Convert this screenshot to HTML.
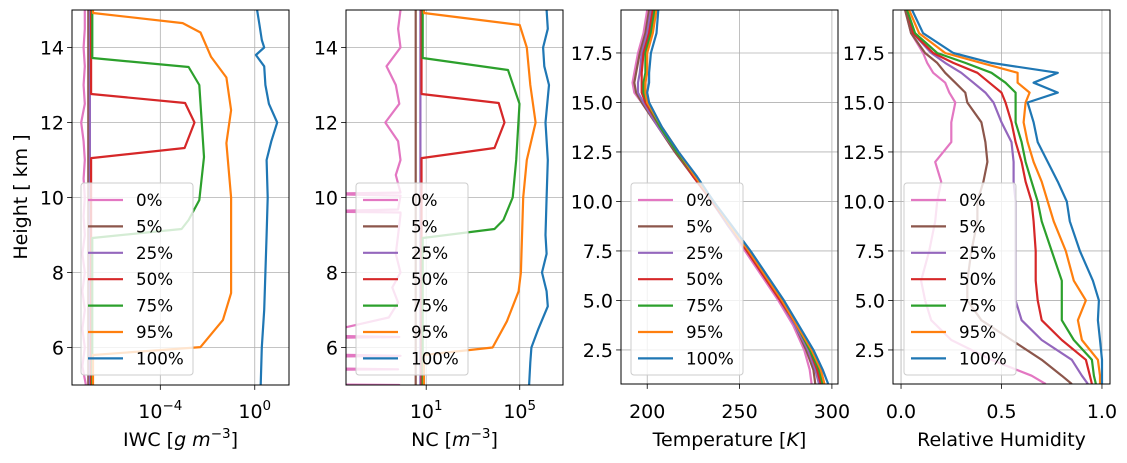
<!DOCTYPE html>
<html><head><meta charset="utf-8"><style>
body{margin:0;background:#fff;}
svg text{font-family:"DejaVu Sans","Liberation Sans",sans-serif;fill:#000;}
</style></head><body>
<svg id="fig" width="1127" height="458" viewBox="0 0 1127 458" xmlns="http://www.w3.org/2000/svg"></svg>
<script>
const labels = ["0%","5%","25%","50%","75%","95%","100%"];
const colors = ["#e377c2","#8c564b","#9467bd","#d62728","#2ca02c","#ff7f0e","#1f77b4"];

// Panel 1: IWC (log10 g m^-3) - heights and values per series
const iwcH = [
 [5,5.5,6,6.5,7,7.5,8,8.5,9,9.5,10,10.5,11,11.5,12,12.5,13,13.5,14,14.5,15],
 [5,15],
 [5,15],
 [5,11.05,11.32,12.0,12.52,12.76,15],
 [5,8.92,9.16,9.4,9.93,11.08,13.0,13.48,13.72,15],
 [5,5.8,6.01,6.73,7.45,10.0,11.45,12.33,13.2,13.75,14.4,14.65,14.92,15],
 [5,6,7,8,9,10,11,11.5,12,12.5,13,13.5,13.8,14,14.2,14.6,15]
];
const iwcV = [
 [-7.15,-7.3,-7.2,-7.3,-7.2,-7.3,-7.2,-7.3,-7.2,-7.25,-7.2,-7.25,-7.2,-7.25,-7.35,-7.2,-7.25,-7.2,-7.25,-7.2,-7.2],
 [-7.05,-7.05],
 [-6.98,-6.98],
 [-6.93,-6.93,-2.97,-2.55,-2.95,-6.93,-6.93],
 [-6.88,-6.88,-3.1,-2.8,-2.35,-2.15,-2.35,-2.8,-6.88,-6.88],
 [-6.85,-6.85,-2.3,-1.35,-1.0,-1.0,-1.2,-1.0,-1.2,-1.85,-2.3,-3.05,-6.85,-6.85],
 [0.25,0.3,0.4,0.45,0.5,0.55,0.5,0.7,0.95,0.6,0.45,0.4,0.05,0.4,0.3,0.2,0.1]
];

// Panel 2: NC (log10 m^-3)
const ncH = [
 [4.95,5.0,5.02,5.4,5.42,5.45,5.75,5.78,5.82,6.25,6.28,6.32,6.8,7.2,7.6,8.0,8.5,9.0,9.55,9.6,9.63,9.68,10.05,10.1,10.13,10.6,11,11.5,12,12.5,13,13.5,14,14.5,15],
 [5,15],
 [5,15],
 [5,11.05,11.32,12.0,12.52,12.76,15],
 [5,8.92,9.16,9.4,10.0,11.0,12.5,13.4,13.72,15],
 [5,5.8,6.0,6.7,7.5,8.0,10.0,11.0,12.0,13.0,14.0,14.6,14.92,15],
 [5,5.6,6.0,6.5,7.1,7.5,8.0,8.5,9,10,11,12,13,13.5,14,14.5,15]
];
const ncV = [
 [-0.15,-0.15,-4,-4,-0.2,-4,-4,-0.1,-4,-4,-0.15,-4,-0.6,-0.2,-0.45,-0.1,-0.3,-0.2,-0.1,-0.1,-4,-0.2,-0.1,-4,-0.1,-0.3,-0.1,-0.2,-0.75,-0.15,-0.3,-0.7,-0.1,-0.2,-0.1],
 [0.55,0.55],
 [0.75,0.75],
 [0.8,0.8,3.92,4.35,4.1,0.8,0.8],
 [0.85,0.85,3.92,4.3,4.7,4.85,4.99,4.5,0.85,0.85],
 [0.9,0.9,3.84,4.45,4.95,5.05,5.15,5.3,5.68,5.45,5.3,5.0,0.9,0.9],
 [5.4,5.45,5.5,5.8,6.2,6.15,5.95,6.15,6.1,6.15,6.2,6.1,6.25,6.05,6.0,6.2,6.15]
];

// Panel 3: Temperature [K]
const tH = [0.78,1.5,2.5,3.75,5,6.25,7.5,8.75,10,11.25,12.5,13.75,15,15.5,16,16.5,17.5,18.5,19.67];
const tV = [
 [289,288,285,279,271,262,253,244,235,225,215,206,197,193,192,193,195,198,200],
 [291,290,286,280,272,263,254,244,235,225,215,206,197,194,193,194,196,199,201],
 [293,291,287,280,272,263,254,244,235,225,216,206,198,195,195,196,197,200,202],
 [294,292,288,281,272,263,254,245,235,225,216,207,199,197,197,197,198,201,203],
 [295,293,288,281,273,264,255,245,236,226,216,207,200,198,198,199,199,202,204],
 [296,294,289,281,273,264,255,245,236,226,217,208,200,199,199,200,200,203,205],
 [298,295,290,282,274,265,256,246,236,227,217,208,201,200,201,201,202,205,206]
];

// Panel 4: Relative humidity
const rhH = [0.78,1.2,2,3,4,5,6,7.5,9,10,11,12,13,14,15,15.5,16,16.5,17,17.5,18.5,19.67];
const rhV = [
 [0.72,0.65,0.45,0.25,0.15,0.12,0.1,0.14,0.17,0.18,0.2,0.17,0.25,0.25,0.27,0.24,0.22,0.16,0.13,0.11,0.05,0.02],
 [0.85,0.8,0.7,0.55,0.4,0.33,0.33,0.35,0.38,0.38,0.41,0.43,0.42,0.4,0.33,0.32,0.27,0.22,0.18,0.12,0.05,0.02],
 [0.93,0.9,0.85,0.7,0.6,0.57,0.57,0.57,0.57,0.57,0.56,0.56,0.55,0.5,0.46,0.42,0.36,0.3,0.22,0.15,0.06,0.03],
 [0.95,0.94,0.92,0.8,0.7,0.68,0.67,0.67,0.66,0.65,0.62,0.6,0.57,0.55,0.52,0.5,0.44,0.38,0.26,0.16,0.06,0.03],
 [0.97,0.96,0.95,0.86,0.8,0.8,0.8,0.75,0.7,0.68,0.65,0.62,0.6,0.57,0.57,0.57,0.52,0.45,0.32,0.18,0.07,0.03],
 [0.99,0.99,0.98,0.9,0.88,0.92,0.86,0.82,0.76,0.73,0.7,0.66,0.63,0.61,0.62,0.64,0.58,0.58,0.4,0.22,0.09,0.04],
 [1.0,1.0,1.0,0.99,0.98,0.985,0.955,0.89,0.84,0.825,0.78,0.73,0.68,0.66,0.63,0.78,0.66,0.78,0.45,0.26,0.11,0.055]
];

const NS="http://www.w3.org/2000/svg";
const svg=document.getElementById('fig');
function el(tag,attrs,parent){const e=document.createElementNS(NS,tag);for(const k in attrs)e.setAttribute(k,attrs[k]);(parent||svg).appendChild(e);return e;}

const panels=[
 {id:'iwc',x0:72,x1:289,y0:10,y1:385,xmin:-7.74,xmax:1.45,ymin:5,ymax:15,H:iwcH,V:iwcV,perH:true,
  xt:[-4,0],xtl:[['10','−4'],['10','0']],yt:[6,8,10,12,14],ytl:['6','8','10','12','14'],xlabel:'iwc',leg:81},
 {id:'nc',x0:346,x1:563,y0:10,y1:385,xmin:-2.43,xmax:6.85,ymin:5,ymax:15,H:ncH,V:ncV,perH:true,
  xt:[1,5],xtl:[['10','1'],['10','5']],yt:[6,8,10,12,14],ytl:['6','8','10','12','14'],xlabel:'nc',leg:356},
 {id:'temp',x0:621,x1:838,y0:10,y1:384,xmin:185.8,xmax:303.3,ymin:0.78,ymax:19.67,H:tH,V:tV,perH:false,
  xt:[200,250,300],xtl:['200','250','300'],yt:[2.5,5,7.5,10,12.5,15,17.5],ytl:['2.5','5.0','7.5','10.0','12.5','15.0','17.5'],xlabel:'Temperature [K]',leg:631},
 {id:'rh',x0:893,x1:1110,y0:10,y1:384,xmin:-0.04,xmax:1.04,ymin:0.78,ymax:19.67,H:rhH,V:rhV,perH:false,
  xt:[0,0.5,1.0],xtl:['0.0','0.5','1.0'],yt:[2.5,5,7.5,10,12.5,15,17.5],ytl:['2.5','5.0','7.5','10.0','12.5','15.0','17.5'],xlabel:'Relative Humidity',leg:904}
];

panels.forEach((p,pi)=>{
  const g=el('g',{});
  
  
  const sx=v=>p.x0+(v-p.xmin)/(p.xmax-p.xmin)*(p.x1-p.x0);
  const sy=v=>p.y1-(v-p.ymin)/(p.ymax-p.ymin)*(p.y1-p.y0);
  const cp=el('clipPath',{id:'clip'+pi},g);
  el('rect',{x:p.x0,y:p.y0,width:p.x1-p.x0,height:p.y1-p.y0},cp);
  p.xt.forEach((t,i)=>{
    const x=sx(t);
    const gl=el('line',{x1:x,x2:x,y1:p.y0,y2:p.y1,stroke:'#b0b0b0','stroke-width':0.8},g);
    
    
    el('line',{x1:x,x2:x,y1:p.y1,y2:p.y1+4.9,stroke:'#000','stroke-width':0.8},g);
    const lab=p.xtl[i];
    const tx=el('text',{x:x,y:418,'font-size':19,'text-anchor':'middle'},g);
    
    
    if(Array.isArray(lab)){
      tx.textContent=lab[0];
      const sp=el('tspan',{'font-size':13.5,dy:-8},tx);sp.textContent=lab[1];
    } else tx.textContent=lab;
  });
  p.yt.forEach((t,i)=>{
    const y=sy(t);
    const gl=el('line',{x1:p.x0,x2:p.x1,y1:y,y2:y,stroke:'#b0b0b0','stroke-width':0.8},g);
    
    
    el('line',{x1:p.x0-4.9,x2:p.x0,y1:y,y2:y,stroke:'#000','stroke-width':0.8},g);
    const tx=el('text',{x:p.x0-8,y:y+7,'font-size':19,'text-anchor':'end'},g);
    
    
    tx.textContent=p.ytl[i];
  });
  const sg=el('g',{'clip-path':'url(#clip'+pi+')'},g);
  p.V.forEach((vals,si)=>{
    const hs=p.perH?p.H[si]:p.H;
    const d=vals.map((v,k)=>(k?'L':'M')+sx(v).toFixed(1)+','+sy(hs[k]).toFixed(1)).join(' ');
    const path=el('path',{d:d,fill:'none',stroke:colors[si],'stroke-width':2.2,'stroke-linejoin':'round'},sg);
    
    
  });
  const fr=el('rect',{x:p.x0,y:p.y0,width:p.x1-p.x0,height:p.y1-p.y0,fill:'none',stroke:'#000','stroke-width':1},g);
  
  
  const lg=el('g',{},g);
  
  
  el('rect',{x:p.leg,y:183,width:112,height:192,rx:3,fill:'#fff','fill-opacity':0.8,stroke:'#cccccc','stroke-width':1},lg);
  labels.forEach((l,i)=>{
    const y=200+i*26.4;
    const e=el('g',{},lg);
    
    
    el('line',{x1:p.leg+7,x2:p.leg+42,y1:y,y2:y,stroke:colors[i],'stroke-width':2.2},e);
    const t=el('text',{x:p.leg+55,y:y+6,'font-size':16.7},e);
    t.textContent=l;
  });
  const cx=(p.x0+p.x1)/2;
  const xl=el('text',{x:cx,y:446,'font-size':19,'text-anchor':'middle'},g);
  
  
  if(p.xlabel==='iwc'){
    xl.appendChild(document.createTextNode('IWC ['));
    let s=el('tspan',{'font-style':'italic'},xl);s.textContent='g m';
    s=el('tspan',{'font-size':13.5,dy:-8},xl);s.textContent='−3';
    s=el('tspan',{dy:8},xl);s.textContent=']';
  } else if(p.xlabel==='nc'){
    xl.appendChild(document.createTextNode('NC ['));
    let s=el('tspan',{'font-style':'italic'},xl);s.textContent='m';
    s=el('tspan',{'font-size':13.5,dy:-8},xl);s.textContent='−3';
    s=el('tspan',{dy:8},xl);s.textContent=']';
  } else if(p.xlabel==='Temperature [K]'){
    xl.appendChild(document.createTextNode('Temperature ['));
    let s=el('tspan',{'font-style':'italic'},xl);s.textContent='K';
    xl.appendChild(document.createTextNode(']'));
  } else xl.textContent=p.xlabel;
});
const yl=el('text',{x:0,y:0,'font-size':19,'text-anchor':'middle',transform:'translate(27,197) rotate(-90)'});


yl.textContent='Height [ km ]';
</script>
</body></html>
